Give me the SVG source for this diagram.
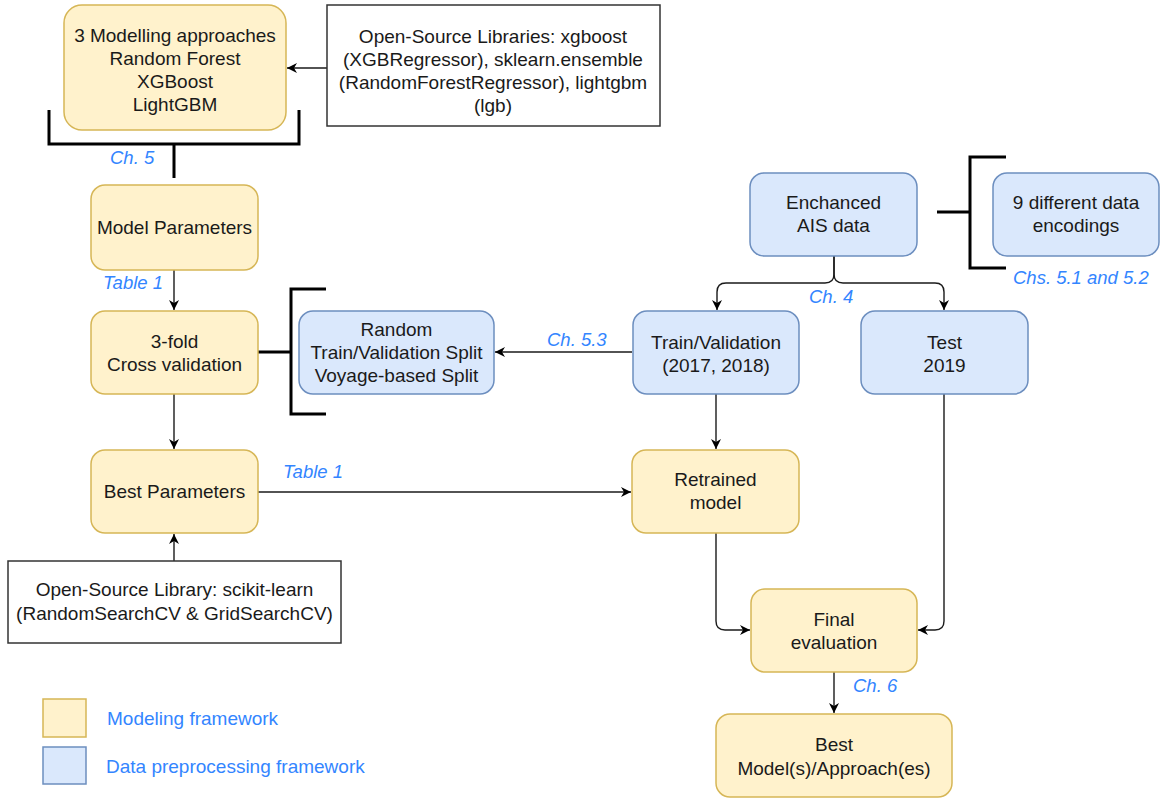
<svg xmlns="http://www.w3.org/2000/svg" width="1164" height="799" viewBox="0 0 1164 799">
<style>
.y{fill:#fff2cc;stroke:#d6b656;stroke-width:1.5}
.b{fill:#dae8fc;stroke:#6c8ebf;stroke-width:1.5}
.w{fill:#ffffff;stroke:#333333;stroke-width:1.5}
.t{font-family:"Liberation Sans",Arial,sans-serif;font-size:19px;fill:#1a1a1a;text-anchor:middle}
.l{font-family:"Liberation Sans",Arial,sans-serif;font-size:18.5px;font-style:italic;fill:#3385ff}
.g{font-family:"Liberation Sans",Arial,sans-serif;font-size:19px;fill:#3385ff}
.c{fill:none;stroke:#1a1a1a;stroke-width:1.4}
.k{fill:none;stroke:#000;stroke-width:3}
</style>
<defs>
<marker id="a" markerUnits="userSpaceOnUse" markerWidth="12" markerHeight="12" viewBox="0 0 12 12" refX="11" refY="6" orient="auto">
<path d="M1,1 L11,6 L1,11 L4,6 z" fill="#000"/>
</marker>
</defs>
<rect width="1164" height="799" fill="#ffffff"/>
<g id="connectors">
<path class="c" d="M327 68 H287" marker-end="url(#a)"/>
<path class="k" d="M49 110 V144 H299 V110 M174 144 V178"/>
<path class="c" d="M174 270 V310" marker-end="url(#a)"/>
<path class="c" d="M174 394 V449" marker-end="url(#a)"/>
<path class="k" d="M258 352 H291 M326 289 H291 V414 H326"/>
<path class="c" d="M632 352 H495" marker-end="url(#a)"/>
<path class="c" d="M258 492 H631" marker-end="url(#a)"/>
<path class="c" d="M174 561 V534" marker-end="url(#a)"/>
<path class="k" d="M937 212 H970 M1006 157 H970 V268 H1006"/>
<path class="c" d="M834 256 V274 Q834 283 825 283 H726 Q717 283 717 292 V310" marker-end="url(#a)"/>
<path class="c" d="M834 256 V274 Q834 283 843 283 H935 Q944 283 944 292 V310" marker-end="url(#a)"/>
<path class="c" d="M716 394 V449" marker-end="url(#a)"/>
<path class="c" d="M716 533 V621 Q716 630 725 630 H750" marker-end="url(#a)"/>
<path class="c" d="M944 394 V621 Q944 630 935 630 H918" marker-end="url(#a)"/>
<path class="c" d="M834 672 V713" marker-end="url(#a)"/>
<text class="l" x="110" y="164">Ch. 5</text>
<text class="l" x="103" y="289">Table 1</text>
<text class="l" x="547" y="346">Ch. 5.3</text>
<text class="l" x="283" y="478">Table 1</text>
<text class="l" x="809" y="303">Ch. 4</text>
<text class="l" x="1013" y="284">Chs. 5.1 and 5.2</text>
<text class="l" x="853" y="692">Ch. 6</text>
</g>
<g id="modelling">
<rect class="y" x="64" y="5" width="222" height="125" rx="18"/>
<text class="t" x="175" y="42">3 Modelling approaches</text>
<text class="t" x="175" y="65">Random Forest</text>
<text class="t" x="175" y="88">XGBoost</text>
<text class="t" x="175" y="111">LightGBM</text>
</g>
<g id="libs">
<rect class="w" x="327" y="5" width="333" height="121"/>
<text class="t" x="493" y="43">Open-Source Libraries: xgboost</text>
<text class="t" x="493" y="66">(XGBRegressor), sklearn.ensemble</text>
<text class="t" x="493" y="89">(RandomForestRegressor), lightgbm</text>
<text class="t" x="493" y="112">(lgb)</text>
</g>
<g id="modelparams">
<rect class="y" x="91" y="185" width="167" height="85" rx="14"/>
<text class="t" x="174.5" y="234">Model Parameters</text>
</g>
<g id="crossval">
<rect class="y" x="91" y="311" width="167" height="83" rx="14"/>
<text class="t" x="174.5" y="348">3-fold</text>
<text class="t" x="174.5" y="371">Cross validation</text>
</g>
<g id="split">
<rect class="b" x="299" y="311" width="195" height="83" rx="14"/>
<text class="t" x="396.5" y="336">Random</text>
<text class="t" x="396.5" y="359">Train/Validation Split</text>
<text class="t" x="396.5" y="382">Voyage-based Split</text>
</g>
<g id="bestparams">
<rect class="y" x="91" y="450" width="167" height="83" rx="14"/>
<text class="t" x="174.5" y="498">Best Parameters</text>
</g>
<g id="sklearn">
<rect class="w" x="8" y="561" width="333" height="82"/>
<text class="t" x="174.5" y="596">Open-Source Library: scikit-learn</text>
<text class="t" x="174.5" y="620">(RandomSearchCV &amp; GridSearchCV)</text>
</g>
<g id="ais">
<rect class="b" x="750" y="173" width="167" height="83" rx="14"/>
<text class="t" x="833.5" y="209">Enchanced</text>
<text class="t" x="833.5" y="232">AIS data</text>
</g>
<g id="encodings">
<rect class="b" x="993" y="173" width="166" height="83" rx="14"/>
<text class="t" x="1076" y="209">9 different data</text>
<text class="t" x="1076" y="232">encodings</text>
</g>
<g id="trainval">
<rect class="b" x="633" y="311" width="166" height="83" rx="14"/>
<text class="t" x="716" y="349">Train/Validation</text>
<text class="t" x="716" y="372">(2017, 2018)</text>
</g>
<g id="test">
<rect class="b" x="861" y="311" width="167" height="83" rx="14"/>
<text class="t" x="944.5" y="349">Test</text>
<text class="t" x="944.5" y="372">2019</text>
</g>
<g id="retrained">
<rect class="y" x="632" y="450" width="167" height="83" rx="14"/>
<text class="t" x="715.5" y="486">Retrained</text>
<text class="t" x="715.5" y="509">model</text>
</g>
<g id="final">
<rect class="y" x="751" y="589" width="166" height="83" rx="14"/>
<text class="t" x="834" y="626">Final</text>
<text class="t" x="834" y="649">evaluation</text>
</g>
<g id="best">
<rect class="y" x="716" y="714" width="236" height="83" rx="14"/>
<text class="t" x="834" y="751">Best</text>
<text class="t" x="834" y="775">Model(s)/Approach(es)</text>
</g>
<g id="legend">
<rect class="y" x="43" y="699" width="43" height="38"/>
<text class="g" x="107" y="725">Modeling framework</text>
<rect class="b" x="43" y="747" width="43" height="37"/>
<text class="g" x="106" y="773">Data preprocessing framework</text>
</g>
</svg>
